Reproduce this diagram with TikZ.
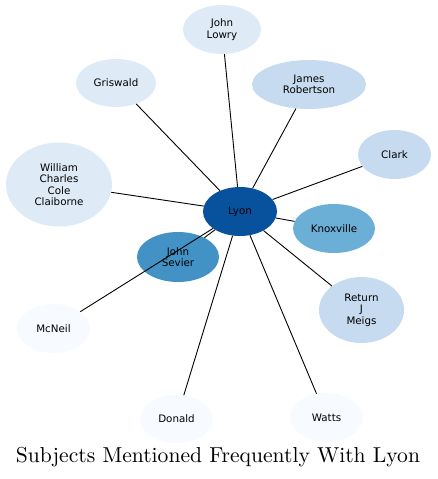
\documentclass[tikz,border=0pt]{standalone}
\usepackage{fontspec}
\usetikzlibrary{shapes.geometric}
\newfontfamily\nodefont{DejaVu Sans}
\newfontfamily\titlefont{lmroman10-regular.otf}
\definecolor{bA}{HTML}{08519C}
\definecolor{bB}{HTML}{4292C6}
\definecolor{bC}{HTML}{6BAED6}
\definecolor{bD}{HTML}{C6DBEF}
\definecolor{bE}{HTML}{DEEBF7}
\definecolor{bF}{HTML}{F7FBFF}
\tikzset{
  subj/.style args={#1/#2/#3}{ellipse, draw=none, fill=#1, inner sep=0pt,
    minimum width=#2pt, minimum height=#3pt, align=center,
    font=\nodefont\fontsize{10.3}{11.5}\selectfont, text=black},
  link/.style={draw=black, line width=0.9pt}
}
\begin{document}
\begin{tikzpicture}[x=1pt,y=-1pt]
\useasboundingbox (0,0) rectangle (437,479);
\node[subj=bA/74/49] (lyon) at (240,211.5) {Lyon};
\node[subj=bC/82/49] (knox) at (334,228.5) {Knoxville};
\node[subj=bB/82/50] (sevier) at (178,257) {John\\Sevier};
\node[subj=bE/78/49] (lowry) at (222,29.5) {John\\Lowry};
\node[subj=bE/80/48] (gris) at (116,83) {Griswald};
\node[subj=bD/114/49] (rob) at (309,84.5) {James\\Robertson};
\node[subj=bD/73/49] (clark) at (394.5,154.5) {Clark};
\node[subj=bE/106/84] (clai) at (59,184.5) {William\\Charles\\Cole\\Claiborne};
\node[subj=bF/73/49] (mcneil) at (53.5,328.5) {McNeil};
\node[subj=bD/85/66] (meigs) at (361.5,310) {Return\\J\\Meigs};
\node[subj=bF/73/48] (donald) at (176.5,419) {Donald};
\node[subj=bF/73/49] (watts) at (326.5,417.5) {Watts};
\foreach \t in {knox,sevier,lowry,gris,rob,clark,clai,mcneil,meigs,donald,watts}
  \draw[link] (lyon) -- (\t);
\node[font=\titlefont\fontsize{21.6}{26}\selectfont, inner sep=0pt] (title) at (218,457) {Subjects Mentioned Frequently With Lyon};
\end{tikzpicture}
\end{document}
